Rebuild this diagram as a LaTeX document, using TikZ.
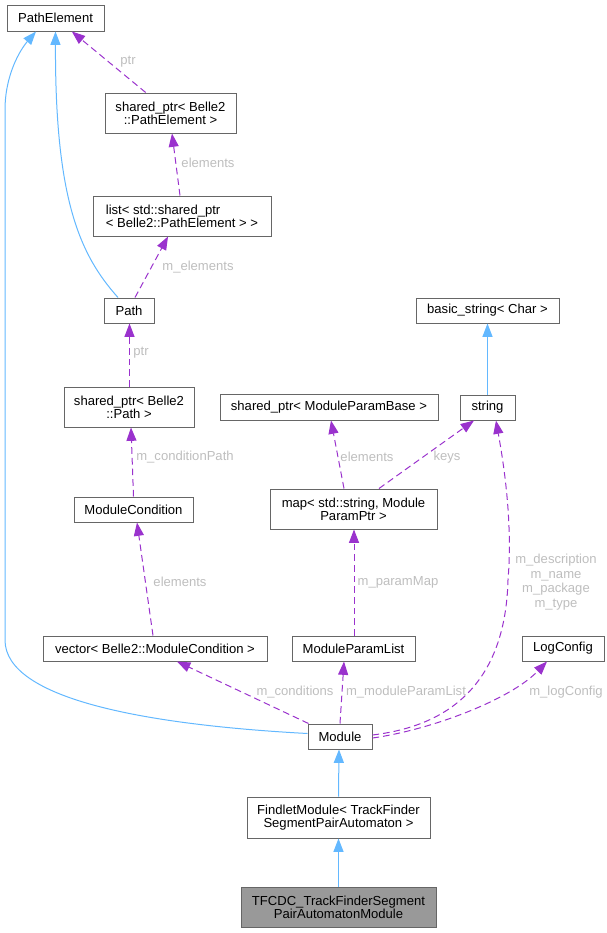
\documentclass[tikz,border=0pt]{standalone}
\usepackage{fontspec}
\setmainfont{Liberation Sans}
\usetikzlibrary{arrows.meta,calc}
\definecolor{edgepurple}{HTML}{9A32CD}
\definecolor{edgeblue}{HTML}{63B8FF}
\definecolor{boxline}{HTML}{666666}
\definecolor{lblgrey}{HTML}{BEBEBE}
\definecolor{hlfill}{HTML}{999999}
\begin{document}
\begin{tikzpicture}[x=0.75pt,y=-0.75pt,
  box/.style={draw=boxline, line width=0.75pt, inner sep=0pt, align=center, font=\fontsize{9.8}{10}\selectfont, fill=white, minimum height=18.75pt},
  box2/.style={box, minimum height=30pt},
  dep/.style={draw=edgepurple, line width=0.75pt, dash pattern=on 5pt off 3pt, -{Triangle[length=10pt,width=7.5pt]}},
  inh/.style={draw=edgeblue, line width=0.75pt, -{Triangle[length=10pt,width=7.5pt]}},
  lbl/.style={text=lblgrey, font=\fontsize{9.8}{11}\selectfont, inner sep=0pt, align=center},
]
\useasboundingbox (0,0) rectangle (607,933);
% nodes
\node[box, minimum width=72.75pt, minimum height=19.5pt] (pe) at (55.5,18) {PathElement};
\node[box2, minimum width=98.25pt] (spe) at (170.5,113) {shared\_ptr< Belle2\\::PathElement >};
\node[box2, minimum width=133.5pt, align=left] (lst) at (182,216) {list< std::shared\_ptr\\< Belle2::PathElement > >};
\node[box, minimum width=37.5pt] (path) at (129,310.5) {Path};
\node[box2, minimum width=97.5pt] (spp) at (129,407) {shared\_ptr< Belle2\\::Path >};
\node[box, minimum width=89.25pt] (mc) at (133.5,509.5) {ModuleCondition};
\node[box, minimum width=168pt] (vec) at (155,648.5) {vector< Belle2::ModuleCondition >};
\node[box, minimum width=107.25pt] (bs) at (487.5,310.5) {basic\_string< Char >};
\node[box, minimum width=163.5pt, minimum height=19.5pt] (spmpb) at (329,407) {shared\_ptr< ModuleParamBase >};
\node[box, minimum width=41.25pt] (str) at (487.5,407.5) {string};
\node[box2, minimum width=125.25pt] (map) at (353.5,509) {map< std::string, Module\\ParamPtr >};
\node[box, minimum width=92.25pt] (mpl) at (353.5,648.5) {ModuleParamList};
\node[box, minimum width=61.5pt] (log) at (563,648.5) {LogConfig};
\node[box, minimum width=48pt] (mod) at (340,736.5) {Module};
\node[box2, minimum width=137.25pt, minimum height=30.75pt] (fm) at (338.5,817.5) {FindletModule< TrackFinder\\SegmentPairAutomaton >};
\node[box2, minimum width=146.25pt, fill=hlfill] (tf) at (338.5,907) {TFCDC\_TrackFinderSegment\\PairAutomatonModule};
% inheritance
\draw[inh] ($(path.north)+(-11,0)$) .. controls (80,255) and (55,200) .. (pe.south);
\draw[inh] ($(mod.west)+(0,-3)$) .. controls (150,725) and (5,700) .. (5,640) -- (5,110) .. controls (5,75) and (20,50) .. ($(pe.south)+(-19.5,0)$);
\draw[inh] (str.north) -- (bs.south);
\draw[inh] (fm.north) -- ($(mod.south)+(-1,0)$);
\draw[inh] (tf.north) -- (fm.south);
% dependencies
\draw[dep] (spe) -- (pe);
\draw[dep] ($(lst.north)+(-2,0)$) -- ($(spe.south)+(1.5,0)$);
\draw[dep] ($(path.north)+(6,0)$) -- ($(lst.south)+(-14,0)$);
\draw[dep] ($(spp.north)+(0.5,0)$) -- ($(path.south)+(0.5,0)$);
\draw[dep] (mc.north) -- ($(spp.south)+(2,0)$);
\draw[dep] ($(vec.north)+(-2,0)$) -- ($(mc.south)+(3.5,0)$);
\draw[dep] ($(mod.north west)+(1,0)$) -- ($(vec.south)+(22,0)$);
\draw[dep] (mod.north) -- ($(mpl.south)+(-9.5,0)$);
\draw[dep] ($(mpl.north)+(0.5,0)$) -- ($(map.south)+(0.5,0)$);
\draw[dep] ($(map.north)+(-9.5,0)$) -- ($(spmpb.south)+(2,0)$);
\draw[dep] ($(map.north)+(25.5,0)$) -- ($(str.south)+(-13.5,0)$);
\draw[dep] ($(mod.east)+(0,-1.5)$) .. controls (430,728) and (505,700) .. (508,580) .. controls (513,520) and (503,460) .. ($(str.south)+(8.5,0)$);
\draw[dep] ($(mod.east)+(0,1.5)$) .. controls (430,730) and (510,700) .. ($(log.south)+(-16,0)$);
% labels
\node[lbl] (l1) at (128,62) {ptr};
\node[lbl] (l2) at (208,163) {elements};
\node[lbl] (l3) at (198,267) {m\_elements};
\node[lbl] (l4) at (141,353) {ptr};
\node[lbl] (l5) at (185,457) {m\_conditionPath};
\node[lbl] (l6) at (180,582) {elements};
\node[lbl] (l7) at (295,692) {m\_conditions};
\node[lbl] (l8) at (406,692) {m\_moduleParamList};
\node[lbl] (l9) at (398,582) {m\_paramMap};
\node[lbl] (l10) at (367,457) {elements};
\node[lbl] (l11) at (447,457) {keys};
\node[lbl] (l12) at (556,582) {m\_description\\m\_name\\m\_package\\m\_type};
\node[lbl] (l13) at (566,692) {m\_logConfig};
\end{tikzpicture}
\end{document}
